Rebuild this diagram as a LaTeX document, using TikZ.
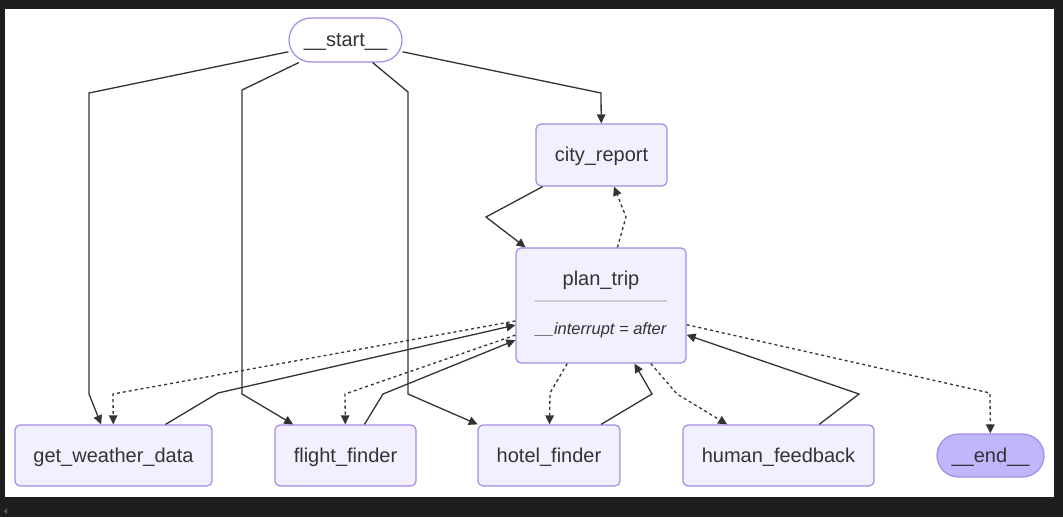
\documentclass[tikz,border=0pt]{standalone}
\usepackage{fontspec}
\setmainfont{Liberation Sans}
\usetikzlibrary{arrows.meta}
\definecolor{bgdark}{HTML}{1E1E1E}
\definecolor{nodefill}{HTML}{F2F0FF}
\definecolor{nodestroke}{HTML}{A68AE6}
\definecolor{endfill}{HTML}{BFB6FC}
\definecolor{edgecol}{HTML}{333333}
\definecolor{sepcol}{HTML}{CCCCCC}
\definecolor{scrollcol}{HTML}{5A5A5A}
\begin{document}
\begin{tikzpicture}[x=1pt,y=-1pt,
  box/.style={draw=nodestroke, line width=1.2pt, fill=nodefill, rounded corners=5pt,
    minimum height=61pt, inner sep=0pt, font=\fontsize{20}{24}\selectfont, text=edgecol,
    text height=17pt, text depth=4pt},
  term/.style={draw=nodestroke, line width=1.2pt, rounded corners=21.5pt,
    minimum height=43pt, inner sep=0pt, font=\fontsize{20}{24}\selectfont, text=edgecol,
    text height=17pt, text depth=4pt},
  lbl/.style={inner sep=0pt, text=edgecol},
  edge/.style={draw=edgecol, line width=1.3pt, -{Triangle[length=9pt,width=8.5pt]}},
  dotedge/.style={edge, dash pattern=on 3pt off 3pt},
]
\useasboundingbox (0,0) rectangle (1063,517);
\fill[bgdark] (0,0) rectangle (1063,517);
\fill[white] (5,9) rectangle (1054,497);
\fill[scrollcol] (4,511) -- (7,508) -- (7,514) -- cycle;

% nodes
\node[term, fill=white, minimum width=113pt, minimum height=44pt, rounded corners=22pt] (start) at (345.5,40) {\_\_start\_\_};
\node[box, minimum width=131pt, minimum height=62pt] (cr) at (601.5,155) {city\_report};
\node[box, minimum width=170pt, minimum height=115pt] (pt) at (601,305.5) {};
\node[lbl, font=\fontsize{20}{24}\selectfont] (ptname) at (601,280) {plan\_trip};
\draw[sepcol, line width=1.3pt] (535,301) -- (667,301);
\node[lbl, font=\fontsize{16.5}{20}\selectfont\itshape] (ptint) at (601,330.5) {\_\_interrupt = after};
\node[box, minimum width=197pt] (gwd) at (113.5,455.5) {get\_weather\_data};
\node[box, minimum width=141pt] (ff) at (345.5,455.5) {flight\_finder};
\node[box, minimum width=142pt] (hf) at (549,455.5) {hotel\_finder};
\node[box, minimum width=191pt] (hfb) at (778.5,455.5) {human\_feedback};
\node[term, fill=endfill, minimum width=107pt] (finish) at (990.5,455.5) {\_\_end\_\_};

% solid edges from start
\draw[edge] (start) -- (89,93) -- (89,394) -- (gwd);
\draw[edge] (start) -- (242,90) -- (242,394) -- (ff);
\draw[edge] (start) -- (408,92) -- (408,394) -- (hf);
\draw[edge] (start) -- (601,93) -- (cr);

% city_report <-> plan_trip
\draw[edge] (cr) -- (486,217) -- (pt);
\draw[dotedge] (pt) -- (626,217) -- (cr);

% plan_trip <-> workers
\draw[dotedge] (pt) -- (113,394) -- (gwd);
\draw[edge] (gwd) -- (218,393) -- (pt);
\draw[dotedge] (pt) -- (345,394) -- (ff);
\draw[edge] (ff) -- (383,394) -- (pt);
\draw[dotedge] (pt) -- (550,393) -- (hf);
\draw[edge] (hf) -- (652,394) -- (pt);
\draw[dotedge] (pt) -- (677,394) -- (hfb);
\draw[edge] (hfb) -- (859,394) -- (pt);
\draw[dotedge] (pt) -- (990,393) -- (finish);
\end{tikzpicture}
\end{document}
